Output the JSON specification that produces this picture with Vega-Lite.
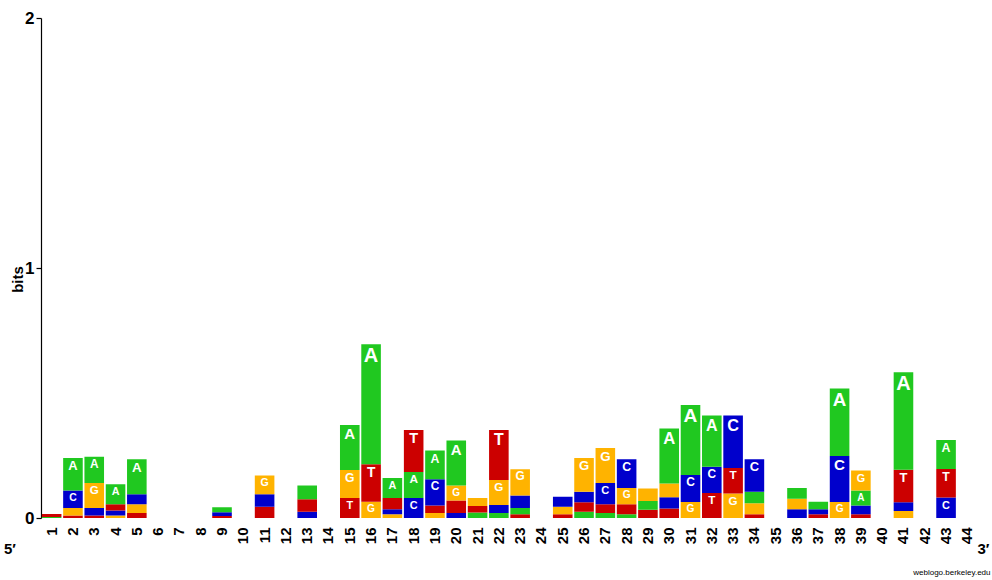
{
  "$schema": "https://vega.github.io/schema/vega-lite/v6.json",
  "width": 937,
  "height": 500,
  "autosize": {"type": "none"},
  "padding": {"left": 41, "top": 18, "right": 14, "bottom": 62},
  "background": "white",
  "config": {"view": {"stroke": null}, "font": "Liberation Sans"},
  "title": {"text": "5′", "orient": "bottom", "anchor": "start", "frame": "group", "fontSize": 15, "fontWeight": "bold", "color": "black", "dx": -37, "dy": -38, "font": "Liberation Sans"},
  "data": {"values": [
    {"pos": 1, "base": "A", "bits": 0.004}, {"pos": 1, "base": "T", "bits": 0.012},
    {"pos": 2, "base": "T", "bits": 0.01}, {"pos": 2, "base": "G", "bits": 0.03}, {"pos": 2, "base": "C", "bits": 0.07}, {"pos": 2, "base": "A", "bits": 0.13},
    {"pos": 3, "base": "T", "bits": 0.01}, {"pos": 3, "base": "C", "bits": 0.03}, {"pos": 3, "base": "G", "bits": 0.1}, {"pos": 3, "base": "A", "bits": 0.105},
    {"pos": 4, "base": "G", "bits": 0.01}, {"pos": 4, "base": "C", "bits": 0.02}, {"pos": 4, "base": "T", "bits": 0.025}, {"pos": 4, "base": "A", "bits": 0.08},
    {"pos": 5, "base": "T", "bits": 0.02}, {"pos": 5, "base": "G", "bits": 0.035}, {"pos": 5, "base": "C", "bits": 0.04}, {"pos": 5, "base": "A", "bits": 0.14},
    {"pos": 9, "base": "T", "bits": 0.008}, {"pos": 9, "base": "C", "bits": 0.015}, {"pos": 9, "base": "A", "bits": 0.02},
    {"pos": 11, "base": "T", "bits": 0.045}, {"pos": 11, "base": "C", "bits": 0.05}, {"pos": 11, "base": "G", "bits": 0.075},
    {"pos": 13, "base": "C", "bits": 0.025}, {"pos": 13, "base": "T", "bits": 0.05}, {"pos": 13, "base": "A", "bits": 0.055},
    {"pos": 15, "base": "T", "bits": 0.08}, {"pos": 15, "base": "G", "bits": 0.112}, {"pos": 15, "base": "A", "bits": 0.18},
    {"pos": 16, "base": "G", "bits": 0.065}, {"pos": 16, "base": "T", "bits": 0.15}, {"pos": 16, "base": "A", "bits": 0.48},
    {"pos": 17, "base": "G", "bits": 0.015}, {"pos": 17, "base": "C", "bits": 0.02}, {"pos": 17, "base": "T", "bits": 0.045}, {"pos": 17, "base": "A", "bits": 0.08},
    {"pos": 18, "base": "C", "bits": 0.08}, {"pos": 18, "base": "A", "bits": 0.104}, {"pos": 18, "base": "T", "bits": 0.168},
    {"pos": 19, "base": "G", "bits": 0.02}, {"pos": 19, "base": "T", "bits": 0.03}, {"pos": 19, "base": "C", "bits": 0.105}, {"pos": 19, "base": "A", "bits": 0.115},
    {"pos": 20, "base": "C", "bits": 0.02}, {"pos": 20, "base": "T", "bits": 0.05}, {"pos": 20, "base": "G", "bits": 0.06}, {"pos": 20, "base": "A", "bits": 0.18},
    {"pos": 21, "base": "A", "bits": 0.022}, {"pos": 21, "base": "T", "bits": 0.026}, {"pos": 21, "base": "G", "bits": 0.032},
    {"pos": 22, "base": "A", "bits": 0.02}, {"pos": 22, "base": "C", "bits": 0.032}, {"pos": 22, "base": "G", "bits": 0.1}, {"pos": 22, "base": "T", "bits": 0.2},
    {"pos": 23, "base": "T", "bits": 0.015}, {"pos": 23, "base": "A", "bits": 0.025}, {"pos": 23, "base": "C", "bits": 0.05}, {"pos": 23, "base": "G", "bits": 0.105},
    {"pos": 25, "base": "T", "bits": 0.015}, {"pos": 25, "base": "G", "bits": 0.03}, {"pos": 25, "base": "C", "bits": 0.04},
    {"pos": 26, "base": "A", "bits": 0.025}, {"pos": 26, "base": "T", "bits": 0.038}, {"pos": 26, "base": "C", "bits": 0.042}, {"pos": 26, "base": "G", "bits": 0.135},
    {"pos": 27, "base": "A", "bits": 0.02}, {"pos": 27, "base": "T", "bits": 0.035}, {"pos": 27, "base": "C", "bits": 0.085}, {"pos": 27, "base": "G", "bits": 0.14},
    {"pos": 28, "base": "A", "bits": 0.015}, {"pos": 28, "base": "T", "bits": 0.04}, {"pos": 28, "base": "G", "bits": 0.065}, {"pos": 28, "base": "C", "bits": 0.115},
    {"pos": 29, "base": "T", "bits": 0.033}, {"pos": 29, "base": "A", "bits": 0.035}, {"pos": 29, "base": "G", "bits": 0.05},
    {"pos": 30, "base": "T", "bits": 0.038}, {"pos": 30, "base": "C", "bits": 0.045}, {"pos": 30, "base": "G", "bits": 0.055}, {"pos": 30, "base": "A", "bits": 0.22},
    {"pos": 31, "base": "G", "bits": 0.064}, {"pos": 31, "base": "C", "bits": 0.108}, {"pos": 31, "base": "A", "bits": 0.28},
    {"pos": 32, "base": "T", "bits": 0.1}, {"pos": 32, "base": "C", "bits": 0.105}, {"pos": 32, "base": "A", "bits": 0.205},
    {"pos": 33, "base": "G", "bits": 0.098}, {"pos": 33, "base": "T", "bits": 0.102}, {"pos": 33, "base": "C", "bits": 0.21},
    {"pos": 34, "base": "T", "bits": 0.015}, {"pos": 34, "base": "G", "bits": 0.044}, {"pos": 34, "base": "A", "bits": 0.046}, {"pos": 34, "base": "C", "bits": 0.13},
    {"pos": 36, "base": "C", "bits": 0.035}, {"pos": 36, "base": "G", "bits": 0.042}, {"pos": 36, "base": "A", "bits": 0.043},
    {"pos": 37, "base": "T", "bits": 0.015}, {"pos": 37, "base": "C", "bits": 0.02}, {"pos": 37, "base": "A", "bits": 0.03},
    {"pos": 38, "base": "G", "bits": 0.064}, {"pos": 38, "base": "C", "bits": 0.184}, {"pos": 38, "base": "A", "bits": 0.27},
    {"pos": 39, "base": "T", "bits": 0.015}, {"pos": 39, "base": "C", "bits": 0.035}, {"pos": 39, "base": "A", "bits": 0.06}, {"pos": 39, "base": "G", "bits": 0.08},
    {"pos": 41, "base": "G", "bits": 0.028}, {"pos": 41, "base": "C", "bits": 0.035}, {"pos": 41, "base": "T", "bits": 0.13}, {"pos": 41, "base": "A", "bits": 0.39},
    {"pos": 43, "base": "C", "bits": 0.082}, {"pos": 43, "base": "T", "bits": 0.114}, {"pos": 43, "base": "A", "bits": 0.116}
  ]},
  "transform": [
    {"stack": "bits", "groupby": ["pos"], "sort": [{"field": "bits", "order": "ascending"}], "as": ["b0", "b1"]}
  ],
  "encoding": {
    "x": {
      "field": "pos", "type": "ordinal",
      "scale": {"domain": [1,2,3,4,5,6,7,8,9,10,11,12,13,14,15,16,17,18,19,20,21,22,23,24,25,26,27,28,29,30,31,32,33,34,35,36,37,38,39,40,41,42,43,44], "paddingInner": 0.08, "paddingOuter": 0.04},
      "axis": {
        "title": "3′", "titleX": 936, "titleY": 30, "titleAlign": "left", "titleBaseline": "middle", "titleAnchor": null,
        "titleFontSize": 15, "titleFontWeight": "bold", "titleColor": "black",
        "labelAngle": 270, "labelFontSize": 15, "labelFontWeight": "bold", "labelColor": "black", "labelPadding": 9,
        "domain": false, "ticks": false, "grid": false
      }
    },
    "color": {
      "field": "base", "type": "nominal", "legend": null,
      "scale": {"domain": ["A", "C", "G", "T"], "range": ["#20c820", "#0000cc", "#ffb300", "#cc0000"]}
    }
  },
  "layer": [
    {
      "mark": {"type": "bar"},
      "encoding": {
        "y": {
          "field": "b1", "type": "quantitative", "scale": {"domain": [0, 2], "nice": false},
          "axis": {
            "title": "bits", "values": [0, 0.5, 1, 1.5, 2], "labelExpr": "datum.value % 1 == 0 ? '' + datum.value : ''", "grid": false, "labelOverlap": false, "labelBound": false, "labelFlush": false,
            "tickSize": {"expr": "datum.value % 1 == 0 ? 5 : 0"},
            "titleFontSize": 15, "titleFontWeight": "bold", "titleColor": "black", "titleX": -24, "titleY": 261, "titleBaseline": "middle", "titleAlign": "center",
            "labelFontSize": 17, "labelFontWeight": "bold", "labelColor": "black", "labelPadding": 2,
            "domainColor": "black", "tickColor": "black", "domainWidth": 1.2, "tickWidth": 1.2
          }
        },
        "y2": {"field": "b0"}
      }
    },
    {
      "transform": [{"filter": "datum.bits >= 0.06"}],
      "mark": {"type": "text", "baseline": "top", "dy": 2, "fontWeight": "bold", "font": "Liberation Sans"},
      "encoding": {
        "y": {
          "field": "b1", "type": "quantitative", "scale": {"domain": [0, 2], "nice": false},
          "axis": {
            "orient": "right", "title": "weblogo.berkeley.edu", "titleAngle": 0, "titleX": 12, "titleY": 554,
            "titleAlign": "right", "titleBaseline": "middle", "titleFontSize": 8, "titleFontWeight": "normal", "titleColor": "black",
            "labels": false, "ticks": false, "domain": false, "grid": false
          }
        },
        "text": {"field": "base"},
        "color": {"value": "white"},
        "size": {"field": "bits", "type": "quantitative", "legend": null, "scale": {"domain": [0.06, 0.3], "range": [10, 20], "clamp": true}}
      }
    }
  ],
  "resolve": {"axis": {"y": "independent"}}
}
